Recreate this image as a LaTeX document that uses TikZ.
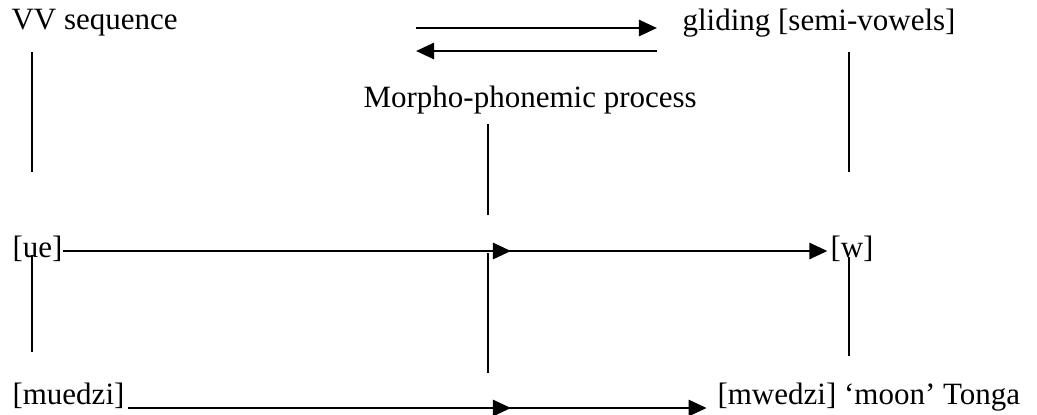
\documentclass[tikz,border=0pt]{standalone}
\usepackage{fontspec}
\setmainfont{Liberation Serif}
\usetikzlibrary{arrows.meta}

\begin{document}
\begin{tikzpicture}[
    x=0.387pt, y=-0.387pt,
    lbl/.style={inner sep=0pt, anchor=base west, font=\fontsize{12}{14}\selectfont},
    arr/.style={-{Triangle[length=7pt, width=6.2pt]}, line width=1.1pt},
    bar/.style={line width=0.8pt}
  ]
  \useasboundingbox (0,0) rectangle (1037,414);

  % labels
  \node[lbl] (vv) at (11,29) {VV sequence};
  \node[lbl] (glide) at (682,30) {gliding [semi-vowels]};
  \node[lbl] (morph) at (363,107) {Morpho-phonemic process};
  \node[lbl] (ue) at (12,257) {[ue]};
  \node[lbl] (w) at (830,257) {[w]};
  \node[lbl] (muedzi) at (12,404) {[muedzi]};
  \node[lbl] (mwedzi) at (717,404) {[mwedzi] `moon' Tonga};

  % two-way arrows at the top
  \coordinate (fwdL) at (416,28);
  \coordinate (fwdR) at (657,28);
  \coordinate (bckL) at (416,51);
  \coordinate (bckR) at (657,51);
  \draw[arr] (fwdL) -- (fwdR);
  \draw[arr] (bckR) -- (bckL);

  % vertical links
  \draw[bar] (32,52) -- (32,172);
  \draw[bar] (849,52) -- (849,172);
  \draw[bar] (488,124) -- (488,215);
  \draw[bar] (32,255) -- (32,352);
  \draw[bar] (488,253) -- (488,373);
  \draw[bar] (849,257) -- (849,356);

  % [ue] -> [w]
  \coordinate (midT) at (511,251);
  \draw[arr] (ue.east |- midT) -- (midT);
  \draw[arr] (498,251) -- ([xshift=-1pt]w.west |- midT);

  % [muedzi] -> [mwedzi]
  \coordinate (botL) at (128,408);
  \coordinate (midB) at (511,408);
  \draw[arr] (botL) -- (midB);
  \draw[arr] (498,408) -- ([xshift=-4pt]mwedzi.west |- midB);
\end{tikzpicture}
\end{document}
